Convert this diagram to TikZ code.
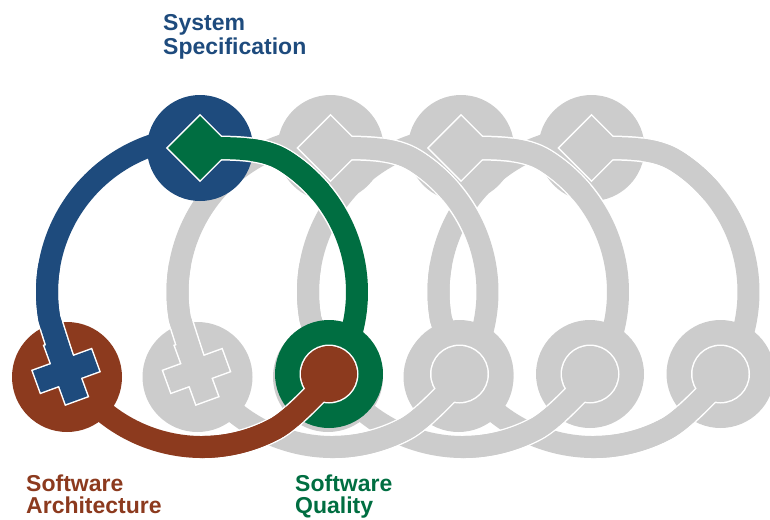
\documentclass[tikz,border=0pt]{standalone}
\usepackage{fontspec}
\setmainfont{Liberation Sans}
\definecolor{sblue}{HTML}{1E4B7D}
\definecolor{sgreen}{HTML}{006E41}
\definecolor{sbrown}{HTML}{8C3A1E}
\definecolor{sgray}{HTML}{CCCCCC}
\tikzset{
  wline/.style={draw=white,line width=25pt,line join=round},
  cline/.style={draw=#1,line width=22pt,line join=round},
  lbl/.style={anchor=north west,inner sep=0pt,align=left,font=\bfseries\fontsize{23}{22}\selectfont},
}
% full connectors
\newcommand\BluePath[1]{\path[#1] (202,292) ++(270:155) arc[start angle=270,end angle=170,radius=155] -- (66,371);}
\newcommand\GreenPath[1]{\path[#1] (202,292) ++(33:155) arc[start angle=33,end angle=-58,radius=155] .. controls (262.9,147.4) and (235,148) .. (200,148);}
\newcommand\BrownPath[1]{\path[#1] (202,292) ++(148:155) arc[start angle=148,end angle=62,radius=155] .. controls (292.5,419.5) and (318,391) .. (332,377);}
% end segments (start outside every circle)
\newcommand\BlueEnd[1]{\path[#1] (202,292) ++(190:155) arc[start angle=190,end angle=170,radius=155] -- (66,371);}
\newcommand\GreenEnd[1]{\path[#1] (202,292) ++(-40:155) arc[start angle=-40,end angle=-58,radius=155] .. controls (262.9,147.4) and (235,148) .. (200,148);}
\newcommand\BrownEnd[1]{\path[#1] (202,292) ++(90:155) arc[start angle=90,end angle=62,radius=155] .. controls (292.5,419.5) and (318,391) .. (332,377);}
\newcommand\CrossShape[1]{\path[#1,shift={(66,371)},rotate=-20] (-11.5,-31) -- (11.5,-31) -- (11.5,-11.5) -- (31,-11.5) -- (31,11.5) -- (11.5,11.5) -- (11.5,31) -- (-11.5,31) -- (-11.5,11.5) -- (-31,11.5) -- (-31,-11.5) -- (-11.5,-11.5) -- cycle;}
\newcommand\DiamondShape[1]{\path[#1] (200,116) -- (232,148) -- (200,180) -- (168,148) -- cycle;}
\newcommand\InnerShape[1]{\path[#1] (329,374) circle (28);}
\newcommand\drawunit[4]{%
 \begin{scope}[xshift=#1pt]
  \BluePath{wline}\GreenPath{wline}\BrownPath{wline}
  \BluePath{cline=#2}\GreenPath{cline=#3}\BrownPath{cline=#4}
  \fill[#2] (200,148) circle (53);
  \fill[#4] (67,377) circle (55);
  \fill[#3] (329,374) circle (54);
  \begin{scope}\clip (67,377) circle (55);
   \BluePath{wline}\CrossShape{draw=white,line width=3pt}
  \end{scope}
  \BlueEnd{cline=#2}\CrossShape{fill=#2}
  \begin{scope}\clip (200,148) circle (53);
   \GreenPath{wline}\DiamondShape{draw=white,line width=3pt}
  \end{scope}
  \GreenEnd{cline=#3}\DiamondShape{fill=#3}
  \begin{scope}\clip (329,374) circle (54);
   \BrownPath{wline}\InnerShape{draw=white,line width=3pt}
  \end{scope}
  \BrownEnd{cline=#4}\InnerShape{fill=#4}
 \end{scope}}
\begin{document}
\begin{tikzpicture}[x=1pt,y=1pt,yscale=-1]
\useasboundingbox (0,0) rectangle (770,519);
\drawunit{391.5}{sgray}{sgray}{sgray}
\drawunit{261}{sgray}{sgray}{sgray}
\drawunit{130.5}{sgray}{sgray}{sgray}
\drawunit{0}{sblue}{sgreen}{sbrown}
\node[lbl,text=sblue,font=\bfseries\fontsize{23}{24}\selectfont] (spec) at (163,14) {System\\Specification};
\node[lbl,text=sbrown] (arch) at (26,475) {Software\\Architecture};
\node[lbl,text=sgreen] (qual) at (295,475) {Software\\Quality};
\end{tikzpicture}
\end{document}
